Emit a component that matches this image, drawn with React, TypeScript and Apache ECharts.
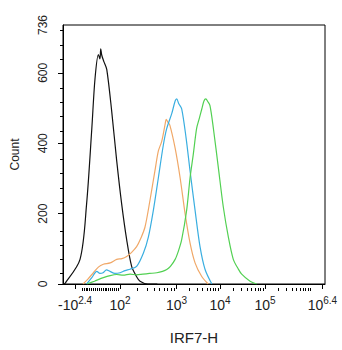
import React, { useEffect, useRef } from "react";
import * as echarts from "echarts";

// Channel units (0..1000) across the logicle-like x axis
const X_TICK_VALUES = [46, 218, 433, 599, 771, 990];
const X_TICK_LABELS = ["{b|-10}{s|2.4}", "{b|10}{s|2}", "{b|10}{s|3}", "{b|10}{s|4}", "{b|10}{s|5}", "{b|10}{s|6.4}"];
const Y_LABEL_VALUES = [0, 200, 400, 600, 736];
const Y_MAJOR_TICKS = [0, 200, 400, 600];

const blackX = [0, 8, 65, 90, 110, 122, 135, 141, 144, 148, 156, 167, 186, 205, 224, 243, 262, 280, 294, 324, 360];
const blackY = [0, 2, 70, 227, 442, 582, 652, 640, 668, 650, 632, 610, 490, 350, 227, 126, 50, 22, 8, 0, 0];

const orangeX = [76, 95, 116, 135, 154, 180, 205, 225, 243, 262, 281, 297, 313, 332, 351, 364, 377, 390, 394, 400, 408, 428, 447, 466, 485, 504, 529, 554];
const orangeY = [0, 14, 32, 48, 56, 60, 70, 72, 78, 90, 106, 130, 162, 238, 322, 378, 406, 455, 468, 460, 451, 386, 302, 200, 116, 60, 22, 0];

const blueX = [90, 110, 129, 141, 153, 166, 179, 198, 218, 237, 256, 281, 307, 326, 345, 364, 383, 396, 415, 428, 434, 442, 453, 470, 485, 504, 523, 542, 568];
const blueY = [0, 18, 36, 30, 32, 40, 36, 30, 32, 38, 42, 50, 88, 134, 210, 302, 395, 442, 484, 520, 526, 512, 498, 414, 321, 210, 106, 42, 0];

const greenX = [92, 120, 154, 180, 205, 230, 256, 280, 305, 330, 358, 380, 396, 410, 428, 441, 453, 472, 485, 497, 510, 520, 530, 538, 545, 553, 561, 574, 593, 612, 631, 650, 668, 682, 714, 739];
const greenY = [0, 8, 18, 24, 27, 25, 28, 26, 28, 30, 32, 36, 41, 50, 70, 95, 126, 210, 302, 367, 442, 470, 498, 520, 526, 518, 507, 442, 330, 218, 134, 70, 44, 28, 8, 0];

// x-axis anchor positions (channel units) for minor ticks
const ZERO_CH = 145;
const LIN_STEP_CH = 7.25;
const DECADES = [
  { from: 218, to: 433 },
  { from: 433, to: 599 },
  { from: 599, to: 771 },
  { from: 771, to: 943 },
];

function pairs(xs: number[], ys: number[]) {
  return xs.map((x, i) => [x, ys[i]]);
}

function minorXTicks() {
  const out: number[] = [72];
  for (let k = -9; k <= 9; k++) out.push(ZERO_CH + k * LIN_STEP_CH);
  DECADES.forEach((d) => {
    for (let k = 2; k <= 9; k++) out.push(d.from + (d.to - d.from) * Math.log10(k));
  });
  out.push(943);
  return out.filter((v) => v > 0 && v < 1000);
}

function minorYTicks() {
  const out: number[] = [];
  for (let v = 40; v < 736; v += 40) if (v % 200 !== 0) out.push(v);
  return out;
}

export default function App() {
  const ref = useRef<HTMLDivElement>(null);
  useEffect(() => {
    if (!ref.current) return;
    const chart = echarts.init(ref.current, undefined, { renderer: "svg" });
    const font = "Liberation Sans, Arial, sans-serif";
    const grid = { left: 63, top: 25, width: 262, bottom: 62 };
    const line = (data: number[][], color: string) => ({
      type: "line",
      data,
      showSymbol: false,
      smooth: 0.3,
      lineStyle: { color, width: 1.2 },
      xAxisIndex: 0,
      yAxisIndex: 0,
    });
    chart.setOption({
      animation: false,
      backgroundColor: "#fff",
      grid: [
        { ...grid, show: true, borderColor: "#000", borderWidth: 1, backgroundColor: "transparent" },
        { ...grid, show: false },
      ],
      xAxis: [
        {
          type: "value",
          gridIndex: 0,
          min: 0,
          max: 1000,
          name: "IRF7-H",
          nameLocation: "middle",
          nameGap: 46,
          nameTextStyle: { fontFamily: font, fontSize: 15, color: "#222" },
          axisLine: { lineStyle: { color: "#000", width: 1 } },
          axisTick: { show: true, length: 5, customValues: X_TICK_VALUES, lineStyle: { color: "#000" } },
          axisLabel: {
            customValues: X_TICK_VALUES,
            margin: 11,
            formatter: (v: number) => X_TICK_LABELS[X_TICK_VALUES.indexOf(v)] ?? "",
            rich: {
              b: { fontFamily: font, fontSize: 14, color: "#222", lineHeight: 20 },
              s: { fontFamily: font, fontSize: 10, color: "#222", lineHeight: 10, verticalAlign: "top" },
            },
          },
          splitLine: { show: false },
        },
        {
          type: "value",
          gridIndex: 1,
          min: 0,
          max: 1000,
          axisLine: { show: false },
          axisTick: { show: true, length: 3, customValues: minorXTicks(), lineStyle: { color: "#000" } },
          axisLabel: { show: false },
          splitLine: { show: false },
        },
      ],
      yAxis: [
        {
          type: "value",
          gridIndex: 0,
          min: 0,
          max: 736,
          name: "Count",
          nameLocation: "middle",
          nameRotate: 90,
          nameGap: 42,
          nameTextStyle: { fontFamily: font, fontSize: 12, color: "#222" },
          axisLine: { show: true, lineStyle: { color: "#000", width: 1 } },
          axisTick: { show: true, length: 5, customValues: Y_MAJOR_TICKS, lineStyle: { color: "#000" } },
          axisLabel: {
            customValues: Y_LABEL_VALUES,
            rotate: 90,
            margin: 14,
            fontFamily: font,
            fontSize: 12,
            color: "#222",
          },
          splitLine: { show: false },
        },
        {
          type: "value",
          gridIndex: 1,
          min: 0,
          max: 736,
          axisLine: { show: false },
          axisTick: { show: true, length: 3, customValues: minorYTicks(), lineStyle: { color: "#000" } },
          axisLabel: { show: false },
          splitLine: { show: false },
        },
      ],
      series: [
        line(pairs(blackX, blackY), "#111111"),
        line(pairs(orangeX, orangeY), "#f0a868"),
        line(pairs(blueX, blueY), "#3aaee0"),
        line(pairs(greenX, greenY), "#52d052"),
      ],
    });
    return () => chart.dispose();
  }, []);
  return <div ref={ref} style={{ position: "fixed", left: 0, top: 0, width: 342, height: 350 }} />;
}
